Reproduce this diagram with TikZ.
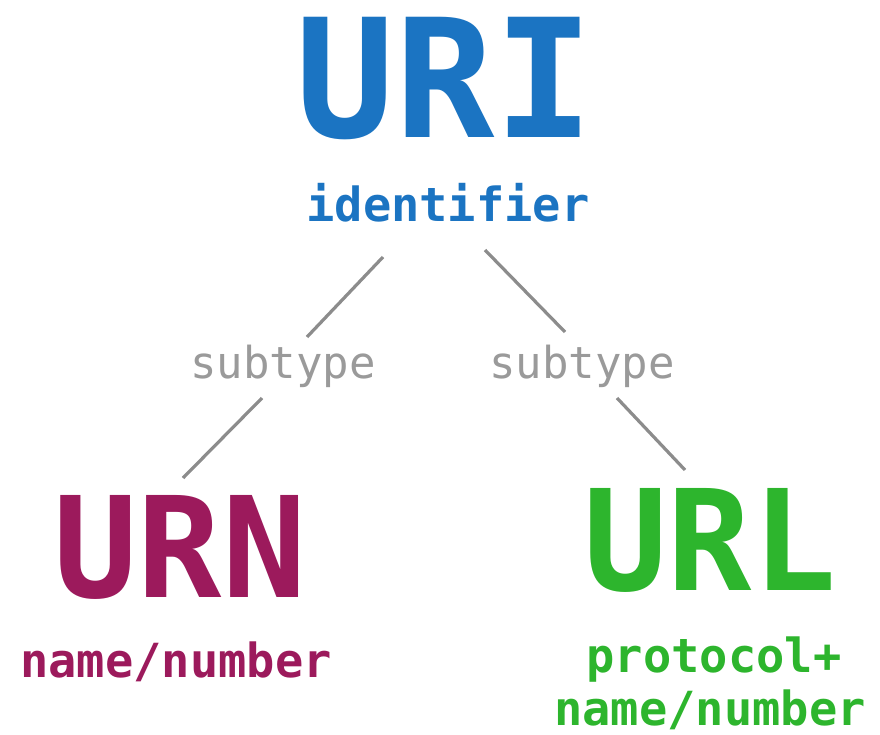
\documentclass[tikz,border=0pt]{standalone}
\usepackage{fontspec}
\setmonofont{DejaVu Sans Mono}
\definecolor{uriblue}{HTML}{1B74C2}
\definecolor{urnred}{HTML}{9C1A5C}
\definecolor{urlgreen}{HTML}{2DB52D}
\definecolor{subgray}{HTML}{9A9A9A}
\definecolor{linegray}{HTML}{8C8C8C}
\begin{document}
\begin{tikzpicture}[x=1pt,y=-1pt,
  lbl/.style={inner sep=0pt, anchor=base, font=\ttfamily},
  big/.style={lbl, font=\ttfamily\bfseries\fontsize{#1}{#1}\selectfont},
  mid/.style={lbl, font=\ttfamily\bfseries\fontsize{47}{47}\selectfont},
  sub/.style={lbl, text=subgray, font=\ttfamily\fontsize{44}{44}\selectfont},
  conn/.style={draw=linegray, line width=3.2pt}]
\useasboundingbox (0,0) rectangle (880,735);
\fill[white] (0,0) rectangle (880,735);
\node[big=165, text=uriblue] (uri) at (445,138) {URI};
\node[mid, text=uriblue] (ident) at (448,222) {identifier};
\node[sub] (subL) at (283,378) {subtype};
\node[sub] (subR) at (582,378) {subtype};
\node[big=140, text=urnred] (urn) at (180,597) {URN};
\node[mid, text=urnred] (urnd) at (176,677) {name/number};
\node[big=140, text=urlgreen] (url) at (710,590) {URL};
\node[mid, text=urlgreen] (urld1) at (714,672) {protocol+};
\node[mid, text=urlgreen] (urld2) at (710,725) {name/number};
\coordinate (a1) at (383,257); \coordinate (a2) at (307,337);
\coordinate (b1) at (262,398); \coordinate (b2) at (183,478);
\coordinate (c1) at (485,250); \coordinate (c2) at (565,332);
\coordinate (d1) at (617,398); \coordinate (d2) at (685,470);
\draw[conn] (a1) -- (a2);
\draw[conn] (b1) -- (b2);
\draw[conn] (c1) -- (c2);
\draw[conn] (d1) -- (d2);
\end{tikzpicture}
\end{document}
